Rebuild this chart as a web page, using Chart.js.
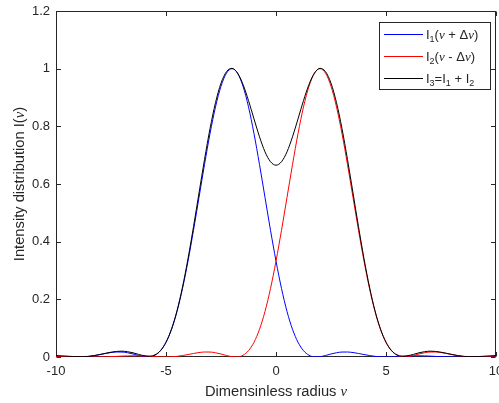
<!DOCTYPE html>
<html><head><meta charset="utf-8">
<script src="https://cdn.jsdelivr.net/npm/chart.js@4.4.0/dist/chart.umd.min.js"></script>
<style>html,body{margin:0;padding:0;background:#fff;}#wrap{width:499px;height:403px;position:relative;}</style>
</head><body><div id="wrap"><canvas id="c" width="499" height="403"></canvas></div>
<script>
// sample positions (dimensionless radius)
const xValues = [-10,-9.75,-9.5,-9.25,-9,-8.75,-8.5,-8.25,-8,-7.75,-7.5,-7.25,-7,-6.75,-6.5,-6.25,-6,-5.75,-5.5,-5.25,-5,-4.75,-4.5,-4.25,-4,-3.75,-3.5,-3.25,-3,-2.75,-2.5,-2.25,-2,-1.75,-1.5,-1.25,-1,-0.75,-0.5,-0.25,0,0.25,0.5,0.75,1,1.25,1.5,1.75,2,2.25,2.5,2.75,3,3.25,3.5,3.75,4,4.25,4.5,4.75,5,5.25,5.5,5.75,6,6.25,6.5,6.75,7,7.25,7.5,7.75,8,8.25,8.5,8.75,9,9.25,9.5,9.75,10];
// I1(nu + dnu)
const i1Values = [0.0034,0.0024,0.0013,0.0003,0.0000,0.0006,0.0022,0.0051,0.0085,0.0123,0.0154,0.0173,0.0172,0.0147,0.0105,0.0052,0.0011,0.0003,0.0062,0.0220,0.0511,0.0960,0.1581,0.2376,0.3326,0.4396,0.5534,0.6675,0.7746,0.8674,0.9391,0.9845,1.0000,0.9845,0.9391,0.8674,0.7746,0.6675,0.5534,0.4396,0.3326,0.2376,0.1581,0.0960,0.0511,0.0220,0.0062,0.0003,0.0011,0.0052,0.0105,0.0147,0.0172,0.0173,0.0154,0.0123,0.0085,0.0051,0.0022,0.0006,0.0000,0.0003,0.0013,0.0024,0.0034,0.0040,0.0041,0.0037,0.0030,0.0021,0.0012,0.0005,0.0001,0.0000,0.0002,0.0006,0.0010,0.0014,0.0016,0.0016,0.0014];
// I2(nu - dnu)
const i2Values = [0.0014,0.0016,0.0016,0.0014,0.0010,0.0006,0.0002,0.0000,0.0001,0.0005,0.0012,0.0021,0.0030,0.0037,0.0041,0.0040,0.0034,0.0024,0.0013,0.0003,0.0000,0.0006,0.0022,0.0051,0.0085,0.0123,0.0154,0.0173,0.0172,0.0147,0.0105,0.0052,0.0011,0.0003,0.0062,0.0220,0.0511,0.0960,0.1581,0.2376,0.3326,0.4396,0.5534,0.6675,0.7746,0.8674,0.9391,0.9845,1.0000,0.9845,0.9391,0.8674,0.7746,0.6675,0.5534,0.4396,0.3326,0.2376,0.1581,0.0960,0.0511,0.0220,0.0062,0.0003,0.0011,0.0052,0.0105,0.0147,0.0172,0.0173,0.0154,0.0123,0.0085,0.0051,0.0022,0.0006,0.0000,0.0003,0.0013,0.0024,0.0034];
// I3 = I1 + I2
const i3Values = [0.0048,0.0040,0.0029,0.0017,0.0010,0.0012,0.0024,0.0051,0.0086,0.0128,0.0166,0.0194,0.0202,0.0184,0.0146,0.0092,0.0045,0.0027,0.0075,0.0223,0.0511,0.0966,0.1603,0.2427,0.3411,0.4519,0.5688,0.6848,0.7918,0.8821,0.9496,0.9897,1.0011,0.9848,0.9453,0.8894,0.8257,0.7635,0.7115,0.6772,0.6652,0.6772,0.7115,0.7635,0.8257,0.8894,0.9453,0.9848,1.0011,0.9897,0.9496,0.8821,0.7918,0.6848,0.5688,0.4519,0.3411,0.2427,0.1603,0.0966,0.0511,0.0223,0.0075,0.0027,0.0045,0.0092,0.0146,0.0184,0.0202,0.0194,0.0166,0.0128,0.0086,0.0051,0.0024,0.0012,0.0010,0.0017,0.0029,0.0040,0.0048];

const xTicks = [-10,-5,0,5,10];
const yTicks = [0,0.2,0.4,0.6,0.8,1,1.2];
const seriesNames = ['I1(ν + Δν)','I2(ν - Δν)','I3=I1 + I2'];
const seriesColors = ['#0000ff','#ff0000','#000000'];
const xTitle = 'Dimensinless radius ';
const yTitle = 'Intensity distribution I(';

const SANS = "'Liberation Sans', Arial, Helvetica, sans-serif";
const SERIF = "'Liberation Serif', 'DejaVu Serif', serif";
const AX = '#262626';

// legend rich text (sub = subscript, sym = greek symbol)
const legendParts = [
  [['I'],['1','sub'],['('],['ν','sym'],[' + '],['Δ'],['ν','sym'],[')']],
  [['I'],['2','sub'],['('],['ν','sym'],[' - '],['Δ'],['ν','sym'],[')']],
  [['I'],['3','sub'],['=I'],['1','sub'],[' + I'],['2','sub']]
];

function pts(vals){ return xValues.map((x,i)=>({x:x,y:vals[i]})); }

function drawRich(ctx, parts, x, y, size, align){
  const fonts = p => p[1]==='sub' ? `${Math.round(size*0.7)}px ${SANS}` : p[1]==='sym' ? `italic ${size}px ${SERIF}` : `${size}px ${SANS}`;
  let w = 0;
  parts.forEach(p=>{ ctx.font = fonts(p); w += ctx.measureText(p[0]).width; });
  let cx = align==='center' ? x - w/2 : x;
  parts.forEach(p=>{
    ctx.font = fonts(p);
    ctx.fillText(p[0], cx, p[1]==='sub' ? y + size*0.25 : y);
    cx += ctx.measureText(p[0]).width;
  });
  return w;
}

const framePlugin = {
  id:'frame',
  beforeDatasetsDraw(chart){
    const {ctx, chartArea:a, scales} = chart;
    const L=Math.round(a.left)+0.5, R=Math.round(a.right)-0.5, T=Math.round(a.top)+0.5, B=Math.round(a.bottom)-0.5;
    ctx.save();
    ctx.strokeStyle = AX; ctx.lineWidth = 1;
    ctx.strokeRect(L, T, R-L, B-T);
    const tl = 4.5;
    ctx.beginPath();
    scales.x.ticks.forEach(t=>{
      const px = Math.round(scales.x.getPixelForValue(t.value))+0.5;
      ctx.moveTo(px,B); ctx.lineTo(px,B-tl);
      ctx.moveTo(px,T); ctx.lineTo(px,T+tl);
    });
    scales.y.ticks.forEach(t=>{
      const py = Math.round(scales.y.getPixelForValue(t.value))+0.5;
      ctx.moveTo(L,py); ctx.lineTo(L+tl,py);
      ctx.moveTo(R,py); ctx.lineTo(R-tl,py);
    });
    ctx.stroke();
    ctx.restore();
  },
  afterDraw(chart){
    const {ctx, chartArea:a} = chart;
    ctx.save();
    ctx.fillStyle = AX; ctx.textBaseline = 'alphabetic';
    // x title
    drawRich(ctx, [[xTitle],['ν','sym']], (a.left+a.right)/2, 396, 14.7, 'center');
    // y title
    ctx.save();
    ctx.translate(24, (a.top+a.bottom)/2);
    ctx.rotate(-Math.PI/2);
    drawRich(ctx, [[yTitle],['ν','sym'],[')']], 0, 0, 14.7, 'center');
    ctx.restore();
    // legend
    const bx=379.5, by=22.5, bw=111, bh=67;
    ctx.fillStyle='#fff'; ctx.fillRect(bx,by,bw,bh);
    ctx.strokeStyle=AX; ctx.lineWidth=1; ctx.strokeRect(bx,by,bw,bh);
    const rows=[34,56,78];
    chart.data.datasets.forEach((ds,i)=>{
      const y = rows[i]+0.5;
      ctx.strokeStyle = ds.borderColor; ctx.lineWidth=1;
      ctx.beginPath(); ctx.moveTo(384,y); ctx.lineTo(423,y); ctx.stroke();
      ctx.fillStyle = AX;
      drawRich(ctx, legendParts[i], 426, rows[i]+4.5, 13, 'left');
    });
    ctx.restore();
  }
};

new Chart(document.getElementById('c'), {
  type:'line',
  data:{ datasets:[
    {label:seriesNames[0], data:pts(i1Values), borderColor:seriesColors[0], order:3},
    {label:seriesNames[1], data:pts(i2Values), borderColor:seriesColors[1], order:2},
    {label:seriesNames[2], data:pts(i3Values), borderColor:seriesColors[2], order:1}
  ]},
  options:{
    responsive:false, animation:false,
    layout:{padding:{top:11,right:3,left:0,bottom:0}},
    elements:{ line:{borderWidth:1, cubicInterpolationMode:'monotone', fill:false}, point:{radius:0} },
    plugins:{ legend:{display:false}, tooltip:{enabled:false} },
    scales:{
      x:{ type:'linear', min:-10, max:10,
        grid:{display:false, drawTicks:false}, border:{display:false},
        afterBuildTicks: s => { s.ticks = xTicks.map(v=>({value:v})); },
        afterFit: s => { s.height = 46; s.paddingLeft = 0; s.paddingRight = 0; },
        ticks:{ padding:7, color:AX, font:{family:SANS, size:13}, maxRotation:0, callback:v=>String(v) } },
      y:{ min:0, max:1.2,
        grid:{display:false, drawTicks:false}, border:{display:false},
        afterBuildTicks: s => { s.ticks = yTicks.map(v=>({value:v})); },
        afterFit: s => { s.width = 56; s.paddingTop = 0; s.paddingBottom = 0; },
        ticks:{ padding:6, color:AX, font:{family:SANS, size:13}, callback:v=>String(+v.toFixed(1)) } }
    }
  },
  plugins:[framePlugin]
});
</script></body></html>
